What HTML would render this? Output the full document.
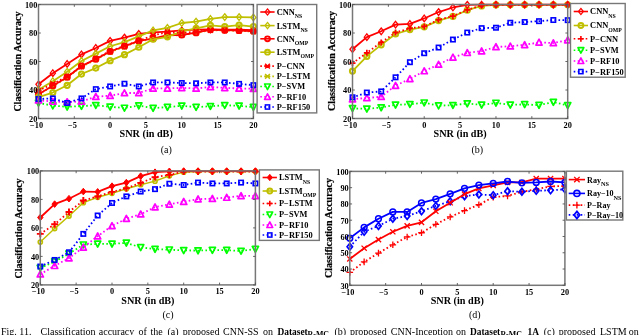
<!DOCTYPE html>
<html><head><meta charset="utf-8"><style>
html,body{margin:0;padding:0;background:#fff;width:640px;height:335px;overflow:hidden}
svg{display:block;will-change:transform}
</style></head><body>
<svg width="640" height="335" viewBox="0 0 640 335">
<rect width="640" height="335" fill="#fff"/>
<g clip-path="none">
<polyline points="38.5,94.56 52.83,86.15 67.15,77.75 81.48,66.63 95.81,59.65 110.13,52.1 124.46,46.82 138.79,41.41 153.11,38.98 167.44,35.56 181.77,35.14 196.09,33 210.42,30.15 224.75,30.44 239.07,30.72 253.4,31.58" fill="none" stroke="#bfbf00" stroke-width="1.8" stroke-linejoin="round" stroke-dasharray="1.6 2.4"/>
<path d="M36 92.06L41 97.06M36 97.06L41 92.06M35.5 94.56H41.5" stroke="#bfbf00" stroke-width="1.6"/>
<path d="M50.33 83.65L55.33 88.65M50.33 88.65L55.33 83.65M49.83 86.15H55.83" stroke="#bfbf00" stroke-width="1.6"/>
<path d="M64.65 75.25L69.65 80.25M64.65 80.25L69.65 75.25M64.15 77.75H70.15" stroke="#bfbf00" stroke-width="1.6"/>
<path d="M78.98 64.13L83.98 69.13M78.98 69.13L83.98 64.13M78.48 66.63H84.48" stroke="#bfbf00" stroke-width="1.6"/>
<path d="M93.31 57.15L98.31 62.15M93.31 62.15L98.31 57.15M92.81 59.65H98.81" stroke="#bfbf00" stroke-width="1.6"/>
<path d="M107.63 49.6L112.63 54.6M107.63 54.6L112.63 49.6M107.13 52.1H113.13" stroke="#bfbf00" stroke-width="1.6"/>
<path d="M121.96 44.32L126.96 49.32M121.96 49.32L126.96 44.32M121.46 46.82H127.46" stroke="#bfbf00" stroke-width="1.6"/>
<path d="M136.29 38.91L141.29 43.91M136.29 43.91L141.29 38.91M135.79 41.41H141.79" stroke="#bfbf00" stroke-width="1.6"/>
<path d="M150.61 36.48L155.61 41.48M150.61 41.48L155.61 36.48M150.11 38.98H156.11" stroke="#bfbf00" stroke-width="1.6"/>
<path d="M164.94 33.06L169.94 38.06M164.94 38.06L169.94 33.06M164.44 35.56H170.44" stroke="#bfbf00" stroke-width="1.6"/>
<path d="M179.27 32.64L184.27 37.64M179.27 37.64L184.27 32.64M178.77 35.14H184.77" stroke="#bfbf00" stroke-width="1.6"/>
<path d="M193.59 30.5L198.59 35.5M193.59 35.5L198.59 30.5M193.09 33H199.09" stroke="#bfbf00" stroke-width="1.6"/>
<path d="M207.92 27.65L212.92 32.65M207.92 32.65L212.92 27.65M207.42 30.15H213.42" stroke="#bfbf00" stroke-width="1.6"/>
<path d="M222.25 27.94L227.25 32.94M222.25 32.94L227.25 27.94M221.75 30.44H227.75" stroke="#bfbf00" stroke-width="1.6"/>
<path d="M236.57 28.22L241.57 33.22M236.57 33.22L241.57 28.22M236.07 30.72H242.07" stroke="#bfbf00" stroke-width="1.6"/>
<path d="M250.9 29.08L255.9 34.08M250.9 34.08L255.9 29.08M250.4 31.58H256.4" stroke="#bfbf00" stroke-width="1.6"/>
<polyline points="38.5,84.3 52.83,73.19 67.15,63.92 81.48,54.38 95.81,47.96 110.13,40.84 124.46,37.56 138.79,33.85 153.11,32.43 167.44,31.72 181.77,30.44 196.09,29.58 210.42,29.3 224.75,29.58 239.07,29.58 253.4,30.15" fill="none" stroke="#ff0000" stroke-width="1.8" stroke-linejoin="round"/>
<path d="M38.5 81L41.1 84.3L38.5 87.6L35.9 84.3Z" fill="none" stroke="#ff0000" stroke-width="1.3"/>
<path d="M52.83 69.89L55.43 73.19L52.83 76.48L50.23 73.19Z" fill="none" stroke="#ff0000" stroke-width="1.3"/>
<path d="M67.15 60.62L69.75 63.92L67.15 67.22L64.55 63.92Z" fill="none" stroke="#ff0000" stroke-width="1.3"/>
<path d="M81.48 51.08L84.08 54.38L81.48 57.67L78.88 54.38Z" fill="none" stroke="#ff0000" stroke-width="1.3"/>
<path d="M95.81 44.66L98.41 47.96L95.81 51.26L93.21 47.96Z" fill="none" stroke="#ff0000" stroke-width="1.3"/>
<path d="M110.13 37.54L112.73 40.84L110.13 44.14L107.53 40.84Z" fill="none" stroke="#ff0000" stroke-width="1.3"/>
<path d="M124.46 34.26L127.06 37.56L124.46 40.86L121.86 37.56Z" fill="none" stroke="#ff0000" stroke-width="1.3"/>
<path d="M138.79 30.55L141.39 33.85L138.79 37.15L136.19 33.85Z" fill="none" stroke="#ff0000" stroke-width="1.3"/>
<path d="M153.11 29.13L155.71 32.43L153.11 35.73L150.51 32.43Z" fill="none" stroke="#ff0000" stroke-width="1.3"/>
<path d="M167.44 28.42L170.04 31.72L167.44 35.02L164.84 31.72Z" fill="none" stroke="#ff0000" stroke-width="1.3"/>
<path d="M181.77 27.14L184.37 30.44L181.77 33.73L179.17 30.44Z" fill="none" stroke="#ff0000" stroke-width="1.3"/>
<path d="M196.09 26.28L198.69 29.58L196.09 32.88L193.49 29.58Z" fill="none" stroke="#ff0000" stroke-width="1.3"/>
<path d="M210.42 26L213.02 29.3L210.42 32.59L207.82 29.3Z" fill="none" stroke="#ff0000" stroke-width="1.3"/>
<path d="M224.75 26.28L227.35 29.58L224.75 32.88L222.15 29.58Z" fill="none" stroke="#ff0000" stroke-width="1.3"/>
<path d="M239.07 26.28L241.67 29.58L239.07 32.88L236.47 29.58Z" fill="none" stroke="#ff0000" stroke-width="1.3"/>
<path d="M253.4 26.85L256 30.15L253.4 33.45L250.8 30.15Z" fill="none" stroke="#ff0000" stroke-width="1.3"/>
<polyline points="38.5,89.71 52.83,81.16 67.15,71.76 81.48,60.93 95.81,53.66 110.13,46.25 124.46,42.12 138.79,36.42 153.11,30.44 167.44,27.87 181.77,23.02 196.09,21.6 210.42,18.89 224.75,17.04 239.07,17.04 253.4,17.47" fill="none" stroke="#bfbf00" stroke-width="1.8" stroke-linejoin="round"/>
<path d="M38.5 86.41L41.1 89.71L38.5 93.01L35.9 89.71Z" fill="none" stroke="#bfbf00" stroke-width="1.3"/>
<path d="M52.83 77.86L55.43 81.16L52.83 84.46L50.23 81.16Z" fill="none" stroke="#bfbf00" stroke-width="1.3"/>
<path d="M67.15 68.46L69.75 71.76L67.15 75.06L64.55 71.76Z" fill="none" stroke="#bfbf00" stroke-width="1.3"/>
<path d="M81.48 57.63L84.08 60.93L81.48 64.23L78.88 60.93Z" fill="none" stroke="#bfbf00" stroke-width="1.3"/>
<path d="M95.81 50.36L98.41 53.66L95.81 56.96L93.21 53.66Z" fill="none" stroke="#bfbf00" stroke-width="1.3"/>
<path d="M110.13 42.95L112.73 46.25L110.13 49.55L107.53 46.25Z" fill="none" stroke="#bfbf00" stroke-width="1.3"/>
<path d="M124.46 38.82L127.06 42.12L124.46 45.42L121.86 42.12Z" fill="none" stroke="#bfbf00" stroke-width="1.3"/>
<path d="M138.79 33.12L141.39 36.42L138.79 39.72L136.19 36.42Z" fill="none" stroke="#bfbf00" stroke-width="1.3"/>
<path d="M153.11 27.14L155.71 30.44L153.11 33.73L150.51 30.44Z" fill="none" stroke="#bfbf00" stroke-width="1.3"/>
<path d="M167.44 24.57L170.04 27.87L167.44 31.17L164.84 27.87Z" fill="none" stroke="#bfbf00" stroke-width="1.3"/>
<path d="M181.77 19.72L184.37 23.02L181.77 26.32L179.17 23.02Z" fill="none" stroke="#bfbf00" stroke-width="1.3"/>
<path d="M196.09 18.3L198.69 21.6L196.09 24.9L193.49 21.6Z" fill="none" stroke="#bfbf00" stroke-width="1.3"/>
<path d="M210.42 15.59L213.02 18.89L210.42 22.19L207.82 18.89Z" fill="none" stroke="#bfbf00" stroke-width="1.3"/>
<path d="M224.75 13.74L227.35 17.04L224.75 20.34L222.15 17.04Z" fill="none" stroke="#bfbf00" stroke-width="1.3"/>
<path d="M239.07 13.74L241.67 17.04L239.07 20.34L236.47 17.04Z" fill="none" stroke="#bfbf00" stroke-width="1.3"/>
<path d="M253.4 14.17L256 17.47L253.4 20.77L250.8 17.47Z" fill="none" stroke="#bfbf00" stroke-width="1.3"/>
<polyline points="38.5,94.28 52.83,85.72 67.15,77.18 81.48,66.06 95.81,59.08 110.13,51.52 124.46,46.25 138.79,40.84 153.11,38.7 167.44,35.14 181.77,35 196.09,32.71 210.42,29.58 224.75,30.15 239.07,30.44 253.4,31.29" fill="none" stroke="#ff0000" stroke-width="1.8" stroke-linejoin="round"/>
<circle cx="38.5" cy="94.28" r="2.6" fill="none" stroke="#ff0000" stroke-width="2"/>
<circle cx="52.83" cy="85.72" r="2.6" fill="none" stroke="#ff0000" stroke-width="2"/>
<circle cx="67.15" cy="77.18" r="2.6" fill="none" stroke="#ff0000" stroke-width="2"/>
<circle cx="81.48" cy="66.06" r="2.6" fill="none" stroke="#ff0000" stroke-width="2"/>
<circle cx="95.81" cy="59.08" r="2.6" fill="none" stroke="#ff0000" stroke-width="2"/>
<circle cx="110.13" cy="51.52" r="2.6" fill="none" stroke="#ff0000" stroke-width="2"/>
<circle cx="124.46" cy="46.25" r="2.6" fill="none" stroke="#ff0000" stroke-width="2"/>
<circle cx="138.79" cy="40.84" r="2.6" fill="none" stroke="#ff0000" stroke-width="2"/>
<circle cx="153.11" cy="38.7" r="2.6" fill="none" stroke="#ff0000" stroke-width="2"/>
<circle cx="167.44" cy="35.14" r="2.6" fill="none" stroke="#ff0000" stroke-width="2"/>
<circle cx="181.77" cy="35" r="2.6" fill="none" stroke="#ff0000" stroke-width="2"/>
<circle cx="196.09" cy="32.71" r="2.6" fill="none" stroke="#ff0000" stroke-width="2"/>
<circle cx="210.42" cy="29.58" r="2.6" fill="none" stroke="#ff0000" stroke-width="2"/>
<circle cx="224.75" cy="30.15" r="2.6" fill="none" stroke="#ff0000" stroke-width="2"/>
<circle cx="239.07" cy="30.44" r="2.6" fill="none" stroke="#ff0000" stroke-width="2"/>
<circle cx="253.4" cy="31.29" r="2.6" fill="none" stroke="#ff0000" stroke-width="2"/>
<polyline points="38.5,97.12 52.83,92.56 67.15,85.3 81.48,74.04 95.81,68.06 110.13,60.64 124.46,54.66 138.79,47.25 153.11,39.27 167.44,36.85 181.77,31.29 196.09,28.3 210.42,25.45 224.75,26.59 239.07,25.16 253.4,26.59" fill="none" stroke="#bfbf00" stroke-width="1.8" stroke-linejoin="round"/>
<circle cx="38.5" cy="97.12" r="2.6" fill="none" stroke="#bfbf00" stroke-width="2"/>
<circle cx="52.83" cy="92.56" r="2.6" fill="none" stroke="#bfbf00" stroke-width="2"/>
<circle cx="67.15" cy="85.3" r="2.6" fill="none" stroke="#bfbf00" stroke-width="2"/>
<circle cx="81.48" cy="74.04" r="2.6" fill="none" stroke="#bfbf00" stroke-width="2"/>
<circle cx="95.81" cy="68.06" r="2.6" fill="none" stroke="#bfbf00" stroke-width="2"/>
<circle cx="110.13" cy="60.64" r="2.6" fill="none" stroke="#bfbf00" stroke-width="2"/>
<circle cx="124.46" cy="54.66" r="2.6" fill="none" stroke="#bfbf00" stroke-width="2"/>
<circle cx="138.79" cy="47.25" r="2.6" fill="none" stroke="#bfbf00" stroke-width="2"/>
<circle cx="153.11" cy="39.27" r="2.6" fill="none" stroke="#bfbf00" stroke-width="2"/>
<circle cx="167.44" cy="36.85" r="2.6" fill="none" stroke="#bfbf00" stroke-width="2"/>
<circle cx="181.77" cy="31.29" r="2.6" fill="none" stroke="#bfbf00" stroke-width="2"/>
<circle cx="196.09" cy="28.3" r="2.6" fill="none" stroke="#bfbf00" stroke-width="2"/>
<circle cx="210.42" cy="25.45" r="2.6" fill="none" stroke="#bfbf00" stroke-width="2"/>
<circle cx="224.75" cy="26.59" r="2.6" fill="none" stroke="#bfbf00" stroke-width="2"/>
<circle cx="239.07" cy="25.16" r="2.6" fill="none" stroke="#bfbf00" stroke-width="2"/>
<circle cx="253.4" cy="26.59" r="2.6" fill="none" stroke="#bfbf00" stroke-width="2"/>
<polyline points="38.5,90.71 52.83,83.87 67.15,76.46 81.48,66.49 95.81,58.65 110.13,51.1 124.46,45.83 138.79,40.84 153.11,35.28 167.44,32.15 181.77,33 196.09,31.58 210.42,30.15 224.75,30.15 239.07,30.86 253.4,30.86" fill="none" stroke="#ff0000" stroke-width="1.8" stroke-linejoin="round" stroke-dasharray="1.6 2.4"/>
<path d="M36 88.21L41 93.21M36 93.21L41 88.21M35.5 90.71H41.5" stroke="#ff0000" stroke-width="1.6"/>
<path d="M50.33 81.37L55.33 86.37M50.33 86.37L55.33 81.37M49.83 83.87H55.83" stroke="#ff0000" stroke-width="1.6"/>
<path d="M64.65 73.96L69.65 78.96M64.65 78.96L69.65 73.96M64.15 76.46H70.15" stroke="#ff0000" stroke-width="1.6"/>
<path d="M78.98 63.99L83.98 68.99M78.98 68.99L83.98 63.99M78.48 66.49H84.48" stroke="#ff0000" stroke-width="1.6"/>
<path d="M93.31 56.15L98.31 61.15M93.31 61.15L98.31 56.15M92.81 58.65H98.81" stroke="#ff0000" stroke-width="1.6"/>
<path d="M107.63 48.6L112.63 53.6M107.63 53.6L112.63 48.6M107.13 51.1H113.13" stroke="#ff0000" stroke-width="1.6"/>
<path d="M121.96 43.33L126.96 48.33M121.96 48.33L126.96 43.33M121.46 45.83H127.46" stroke="#ff0000" stroke-width="1.6"/>
<path d="M136.29 38.34L141.29 43.34M136.29 43.34L141.29 38.34M135.79 40.84H141.79" stroke="#ff0000" stroke-width="1.6"/>
<path d="M150.61 32.78L155.61 37.78M150.61 37.78L155.61 32.78M150.11 35.28H156.11" stroke="#ff0000" stroke-width="1.6"/>
<path d="M164.94 29.65L169.94 34.65M164.94 34.65L169.94 29.65M164.44 32.15H170.44" stroke="#ff0000" stroke-width="1.6"/>
<path d="M179.27 30.5L184.27 35.5M179.27 35.5L184.27 30.5M178.77 33H184.77" stroke="#ff0000" stroke-width="1.6"/>
<path d="M193.59 29.08L198.59 34.08M193.59 34.08L198.59 29.08M193.09 31.58H199.09" stroke="#ff0000" stroke-width="1.6"/>
<path d="M207.92 27.65L212.92 32.65M207.92 32.65L212.92 27.65M207.42 30.15H213.42" stroke="#ff0000" stroke-width="1.6"/>
<path d="M222.25 27.65L227.25 32.65M222.25 32.65L227.25 27.65M221.75 30.15H227.75" stroke="#ff0000" stroke-width="1.6"/>
<path d="M236.57 28.36L241.57 33.36M236.57 33.36L241.57 28.36M236.07 30.86H242.07" stroke="#ff0000" stroke-width="1.6"/>
<path d="M250.9 28.36L255.9 33.36M250.9 33.36L255.9 28.36M250.4 30.86H256.4" stroke="#ff0000" stroke-width="1.6"/>
<polyline points="38.5,102.97 52.83,105.67 67.15,106.81 81.48,106.1 95.81,105.25 110.13,106.81 124.46,107.95 138.79,105.67 153.11,108.1 167.44,107.1 181.77,105.82 196.09,107.1 210.42,106.25 224.75,105.25 239.07,105.82 253.4,107.1" fill="none" stroke="#00ff00" stroke-width="1.8" stroke-linejoin="round" stroke-dasharray="1.6 2.4"/>
<path d="M35.4 100.27L41.6 100.27L38.5 106.17Z" fill="none" stroke="#00ff00" stroke-width="1.7" stroke-linejoin="round"/>
<path d="M49.73 102.97L55.93 102.97L52.83 108.88Z" fill="none" stroke="#00ff00" stroke-width="1.7" stroke-linejoin="round"/>
<path d="M64.05 104.11L70.25 104.11L67.15 110.02Z" fill="none" stroke="#00ff00" stroke-width="1.7" stroke-linejoin="round"/>
<path d="M78.38 103.4L84.58 103.4L81.48 109.3Z" fill="none" stroke="#00ff00" stroke-width="1.7" stroke-linejoin="round"/>
<path d="M92.71 102.55L98.91 102.55L95.81 108.45Z" fill="none" stroke="#00ff00" stroke-width="1.7" stroke-linejoin="round"/>
<path d="M107.03 104.11L113.23 104.11L110.13 110.02Z" fill="none" stroke="#00ff00" stroke-width="1.7" stroke-linejoin="round"/>
<path d="M121.36 105.25L127.56 105.25L124.46 111.16Z" fill="none" stroke="#00ff00" stroke-width="1.7" stroke-linejoin="round"/>
<path d="M135.69 102.97L141.89 102.97L138.79 108.88Z" fill="none" stroke="#00ff00" stroke-width="1.7" stroke-linejoin="round"/>
<path d="M150.01 105.4L156.21 105.4L153.11 111.3Z" fill="none" stroke="#00ff00" stroke-width="1.7" stroke-linejoin="round"/>
<path d="M164.34 104.4L170.54 104.4L167.44 110.3Z" fill="none" stroke="#00ff00" stroke-width="1.7" stroke-linejoin="round"/>
<path d="M178.67 103.12L184.87 103.12L181.77 109.02Z" fill="none" stroke="#00ff00" stroke-width="1.7" stroke-linejoin="round"/>
<path d="M192.99 104.4L199.19 104.4L196.09 110.3Z" fill="none" stroke="#00ff00" stroke-width="1.7" stroke-linejoin="round"/>
<path d="M207.32 103.55L213.52 103.55L210.42 109.45Z" fill="none" stroke="#00ff00" stroke-width="1.7" stroke-linejoin="round"/>
<path d="M221.65 102.55L227.85 102.55L224.75 108.45Z" fill="none" stroke="#00ff00" stroke-width="1.7" stroke-linejoin="round"/>
<path d="M235.97 103.12L242.17 103.12L239.07 109.02Z" fill="none" stroke="#00ff00" stroke-width="1.7" stroke-linejoin="round"/>
<path d="M250.3 104.4L256.5 104.4L253.4 110.3Z" fill="none" stroke="#00ff00" stroke-width="1.7" stroke-linejoin="round"/>
<polyline points="38.5,100.26 52.83,101.54 67.15,101.97 81.48,101.54 95.81,96.7 110.13,95.7 124.46,92.99 138.79,92.99 153.11,88.43 167.44,88.43 181.77,87.86 196.09,88.43 210.42,87.01 224.75,87.86 239.07,88.43 253.4,88.72" fill="none" stroke="#ff00ff" stroke-width="1.8" stroke-linejoin="round" stroke-dasharray="1.6 2.4"/>
<path d="M35.4 102.96L41.6 102.96L38.5 97.06Z" fill="none" stroke="#ff00ff" stroke-width="1.7" stroke-linejoin="round"/>
<path d="M49.73 104.24L55.93 104.24L52.83 98.34Z" fill="none" stroke="#ff00ff" stroke-width="1.7" stroke-linejoin="round"/>
<path d="M64.05 104.67L70.25 104.67L67.15 98.77Z" fill="none" stroke="#ff00ff" stroke-width="1.7" stroke-linejoin="round"/>
<path d="M78.38 104.24L84.58 104.24L81.48 98.34Z" fill="none" stroke="#ff00ff" stroke-width="1.7" stroke-linejoin="round"/>
<path d="M92.71 99.4L98.91 99.4L95.81 93.5Z" fill="none" stroke="#ff00ff" stroke-width="1.7" stroke-linejoin="round"/>
<path d="M107.03 98.4L113.23 98.4L110.13 92.5Z" fill="none" stroke="#ff00ff" stroke-width="1.7" stroke-linejoin="round"/>
<path d="M121.36 95.69L127.56 95.69L124.46 89.79Z" fill="none" stroke="#ff00ff" stroke-width="1.7" stroke-linejoin="round"/>
<path d="M135.69 95.69L141.89 95.69L138.79 89.79Z" fill="none" stroke="#ff00ff" stroke-width="1.7" stroke-linejoin="round"/>
<path d="M150.01 91.13L156.21 91.13L153.11 85.23Z" fill="none" stroke="#ff00ff" stroke-width="1.7" stroke-linejoin="round"/>
<path d="M164.34 91.13L170.54 91.13L167.44 85.23Z" fill="none" stroke="#ff00ff" stroke-width="1.7" stroke-linejoin="round"/>
<path d="M178.67 90.56L184.87 90.56L181.77 84.66Z" fill="none" stroke="#ff00ff" stroke-width="1.7" stroke-linejoin="round"/>
<path d="M192.99 91.13L199.19 91.13L196.09 85.23Z" fill="none" stroke="#ff00ff" stroke-width="1.7" stroke-linejoin="round"/>
<path d="M207.32 89.71L213.52 89.71L210.42 83.81Z" fill="none" stroke="#ff00ff" stroke-width="1.7" stroke-linejoin="round"/>
<path d="M221.65 90.56L227.85 90.56L224.75 84.66Z" fill="none" stroke="#ff00ff" stroke-width="1.7" stroke-linejoin="round"/>
<path d="M235.97 91.13L242.17 91.13L239.07 85.23Z" fill="none" stroke="#ff00ff" stroke-width="1.7" stroke-linejoin="round"/>
<path d="M250.3 91.42L256.5 91.42L253.4 85.52Z" fill="none" stroke="#ff00ff" stroke-width="1.7" stroke-linejoin="round"/>
<polyline points="38.5,98.98 52.83,98.41 67.15,102.97 81.48,98.41 95.81,89.14 110.13,86.44 124.46,83.73 138.79,86.44 153.11,82.45 167.44,82.45 181.77,83.02 196.09,83.3 210.42,82.45 224.75,82.45 239.07,83.87 253.4,85.16" fill="none" stroke="#0000ff" stroke-width="1.8" stroke-linejoin="round" stroke-dasharray="1.6 2.4"/>
<rect x="36.3" y="96.78" width="4.4" height="4.4" fill="none" stroke="#0000ff" stroke-width="1.6"/>
<rect x="50.63" y="96.21" width="4.4" height="4.4" fill="none" stroke="#0000ff" stroke-width="1.6"/>
<rect x="64.95" y="100.77" width="4.4" height="4.4" fill="none" stroke="#0000ff" stroke-width="1.6"/>
<rect x="79.28" y="96.21" width="4.4" height="4.4" fill="none" stroke="#0000ff" stroke-width="1.6"/>
<rect x="93.61" y="86.94" width="4.4" height="4.4" fill="none" stroke="#0000ff" stroke-width="1.6"/>
<rect x="107.93" y="84.24" width="4.4" height="4.4" fill="none" stroke="#0000ff" stroke-width="1.6"/>
<rect x="122.26" y="81.53" width="4.4" height="4.4" fill="none" stroke="#0000ff" stroke-width="1.6"/>
<rect x="136.59" y="84.24" width="4.4" height="4.4" fill="none" stroke="#0000ff" stroke-width="1.6"/>
<rect x="150.91" y="80.25" width="4.4" height="4.4" fill="none" stroke="#0000ff" stroke-width="1.6"/>
<rect x="165.24" y="80.25" width="4.4" height="4.4" fill="none" stroke="#0000ff" stroke-width="1.6"/>
<rect x="179.57" y="80.82" width="4.4" height="4.4" fill="none" stroke="#0000ff" stroke-width="1.6"/>
<rect x="193.89" y="81.1" width="4.4" height="4.4" fill="none" stroke="#0000ff" stroke-width="1.6"/>
<rect x="208.22" y="80.25" width="4.4" height="4.4" fill="none" stroke="#0000ff" stroke-width="1.6"/>
<rect x="222.55" y="80.25" width="4.4" height="4.4" fill="none" stroke="#0000ff" stroke-width="1.6"/>
<rect x="236.87" y="81.67" width="4.4" height="4.4" fill="none" stroke="#0000ff" stroke-width="1.6"/>
<rect x="251.2" y="82.95" width="4.4" height="4.4" fill="none" stroke="#0000ff" stroke-width="1.6"/>
</g>
<rect x="38.5" y="4.5" width="214.9" height="114" fill="none" stroke="#777" stroke-width="1.5"/>
<path d="M38.5 118.5V116.2M38.5 4.5V6.8" stroke="#555" stroke-width="0.9"/>
<text x="36.6" y="128" font-family="Liberation Serif" font-weight="bold" font-size="8.3" text-anchor="middle">−10</text>
<path d="M74.32 118.5V116.2M74.32 4.5V6.8" stroke="#555" stroke-width="0.9"/>
<text x="72.42" y="128" font-family="Liberation Serif" font-weight="bold" font-size="8.3" text-anchor="middle">−5</text>
<path d="M110.13 118.5V116.2M110.13 4.5V6.8" stroke="#555" stroke-width="0.9"/>
<text x="110.13" y="128" font-family="Liberation Serif" font-weight="bold" font-size="8.3" text-anchor="middle">0</text>
<path d="M145.95 118.5V116.2M145.95 4.5V6.8" stroke="#555" stroke-width="0.9"/>
<text x="145.95" y="128" font-family="Liberation Serif" font-weight="bold" font-size="8.3" text-anchor="middle">5</text>
<path d="M181.77 118.5V116.2M181.77 4.5V6.8" stroke="#555" stroke-width="0.9"/>
<text x="181.77" y="128" font-family="Liberation Serif" font-weight="bold" font-size="8.3" text-anchor="middle">10</text>
<path d="M217.58 118.5V116.2M217.58 4.5V6.8" stroke="#555" stroke-width="0.9"/>
<text x="217.58" y="128" font-family="Liberation Serif" font-weight="bold" font-size="8.3" text-anchor="middle">15</text>
<path d="M253.4 118.5V116.2M253.4 4.5V6.8" stroke="#555" stroke-width="0.9"/>
<text x="253.4" y="128" font-family="Liberation Serif" font-weight="bold" font-size="8.3" text-anchor="middle">20</text>
<path d="M38.5 118.5H40.8M253.4 118.5H251.1" stroke="#555" stroke-width="0.9"/>
<text x="37.4" y="121.8" font-family="Liberation Serif" font-weight="bold" font-size="8.3" text-anchor="end">20</text>
<path d="M38.5 90H40.8M253.4 90H251.1" stroke="#555" stroke-width="0.9"/>
<text x="37.4" y="93.3" font-family="Liberation Serif" font-weight="bold" font-size="8.3" text-anchor="end">40</text>
<path d="M38.5 61.5H40.8M253.4 61.5H251.1" stroke="#555" stroke-width="0.9"/>
<text x="37.4" y="64.8" font-family="Liberation Serif" font-weight="bold" font-size="8.3" text-anchor="end">60</text>
<path d="M38.5 33H40.8M253.4 33H251.1" stroke="#555" stroke-width="0.9"/>
<text x="37.4" y="36.3" font-family="Liberation Serif" font-weight="bold" font-size="8.3" text-anchor="end">80</text>
<path d="M38.5 4.5H40.8M253.4 4.5H251.1" stroke="#555" stroke-width="0.9"/>
<text x="37.4" y="7.8" font-family="Liberation Serif" font-weight="bold" font-size="8.3" text-anchor="end">100</text>
<text transform="translate(20.6 61.6) rotate(-90) scale(0.97 1)" font-family="Liberation Serif" font-weight="bold" font-size="10.3" text-anchor="middle" stroke="#000" stroke-width="0.2">Classification Accuracy</text>
<text x="146.2" y="137.2" font-family="Liberation Serif" font-weight="bold" font-size="10.2" text-anchor="middle">SNR (in dB)</text>
<text x="166.3" y="152.6" font-family="Liberation Serif" font-size="10" text-anchor="middle">(a)</text>
<rect x="257.1" y="4.5" width="59.6" height="108.4" fill="#fff" stroke="#777" stroke-width="1.4"/>
<path d="M260.3 12H274.6" stroke="#ff0000" stroke-width="1.6"/>
<path d="M267.5 8.87L269.97 12L267.5 15.13L265.03 12Z" fill="none" stroke="#ff0000" stroke-width="1.23"/>
<text x="276.7" y="14.9" font-family="Liberation Serif" font-weight="bold" font-size="8.4">CNN<tspan font-size="5.8" dy="3.2">NS</tspan></text>
<path d="M260.3 25.6H274.6" stroke="#bfbf00" stroke-width="1.6"/>
<path d="M267.5 22.47L269.97 25.6L267.5 28.73L265.03 25.6Z" fill="none" stroke="#bfbf00" stroke-width="1.23"/>
<text x="276.7" y="28.5" font-family="Liberation Serif" font-weight="bold" font-size="8.4">LSTM<tspan font-size="5.8" dy="3.2">NS</tspan></text>
<path d="M260.3 38.8H274.6" stroke="#ff0000" stroke-width="1.6"/>
<circle cx="267.5" cy="38.8" r="2.47" fill="none" stroke="#ff0000" stroke-width="1.9"/>
<text x="276.7" y="41.7" font-family="Liberation Serif" font-weight="bold" font-size="8.4">CNN<tspan font-size="5.8" dy="3.2">OMP</tspan></text>
<path d="M260.3 52.2H274.6" stroke="#bfbf00" stroke-width="1.6"/>
<circle cx="267.5" cy="52.2" r="2.47" fill="none" stroke="#bfbf00" stroke-width="1.9"/>
<text x="276.7" y="55.1" font-family="Liberation Serif" font-weight="bold" font-size="8.4">LSTM<tspan font-size="5.8" dy="3.2">OMP</tspan></text>
<path d="M260.3 66.1H274.6" stroke="#ff0000" stroke-width="1.6" stroke-dasharray="1.6 2.4"/>
<path d="M265.12 63.72L269.88 68.47M265.12 68.47L269.88 63.72M264.65 66.1H270.35" stroke="#ff0000" stroke-width="1.52"/>
<text x="276.7" y="69" font-family="Liberation Serif" font-weight="bold" font-size="8.4">P−CNN</text>
<path d="M260.3 76.4H274.6" stroke="#bfbf00" stroke-width="1.6" stroke-dasharray="1.6 2.4"/>
<path d="M265.12 74.03L269.88 78.78M265.12 78.78L269.88 74.03M264.65 76.4H270.35" stroke="#bfbf00" stroke-width="1.52"/>
<text x="276.7" y="79.3" font-family="Liberation Serif" font-weight="bold" font-size="8.4">P−LSTM</text>
<path d="M260.3 86.5H274.6" stroke="#00ff00" stroke-width="1.6" stroke-dasharray="1.6 2.4"/>
<path d="M264.56 83.94L270.44 83.94L267.5 89.54Z" fill="none" stroke="#00ff00" stroke-width="1.61" stroke-linejoin="round"/>
<text x="276.7" y="89.4" font-family="Liberation Serif" font-weight="bold" font-size="8.4">P−SVM</text>
<path d="M260.3 96.8H274.6" stroke="#ff00ff" stroke-width="1.6" stroke-dasharray="1.6 2.4"/>
<path d="M264.56 99.36L270.44 99.36L267.5 93.76Z" fill="none" stroke="#ff00ff" stroke-width="1.61" stroke-linejoin="round"/>
<text x="276.7" y="99.7" font-family="Liberation Serif" font-weight="bold" font-size="8.4">P−RF10</text>
<path d="M260.3 107H274.6" stroke="#0000ff" stroke-width="1.6" stroke-dasharray="1.6 2.4"/>
<rect x="265.41" y="104.91" width="4.18" height="4.18" fill="none" stroke="#0000ff" stroke-width="1.52"/>
<text x="276.7" y="109.9" font-family="Liberation Serif" font-weight="bold" font-size="8.4">P−RF150</text>
<g clip-path="none">
<polyline points="352.5,108.38 366.85,108.81 381.19,107.53 395.54,104.82 409.89,104.25 424.23,102.68 438.58,105.67 452.93,105.25 467.27,103.54 481.62,104.82 495.97,102.97 510.31,104.82 524.66,104.39 539.01,105.11 553.35,102.11 567.7,105.39" fill="none" stroke="#00ff00" stroke-width="1.8" stroke-linejoin="round" stroke-dasharray="1.6 2.4"/>
<path d="M349.4 105.68L355.6 105.68L352.5 111.58Z" fill="none" stroke="#00ff00" stroke-width="1.7" stroke-linejoin="round"/>
<path d="M363.75 106.11L369.95 106.11L366.85 112.01Z" fill="none" stroke="#00ff00" stroke-width="1.7" stroke-linejoin="round"/>
<path d="M378.09 104.83L384.29 104.83L381.19 110.73Z" fill="none" stroke="#00ff00" stroke-width="1.7" stroke-linejoin="round"/>
<path d="M392.44 102.12L398.64 102.12L395.54 108.02Z" fill="none" stroke="#00ff00" stroke-width="1.7" stroke-linejoin="round"/>
<path d="M406.79 101.55L412.99 101.55L409.89 107.45Z" fill="none" stroke="#00ff00" stroke-width="1.7" stroke-linejoin="round"/>
<path d="M421.13 99.98L427.33 99.98L424.23 105.88Z" fill="none" stroke="#00ff00" stroke-width="1.7" stroke-linejoin="round"/>
<path d="M435.48 102.97L441.68 102.97L438.58 108.88Z" fill="none" stroke="#00ff00" stroke-width="1.7" stroke-linejoin="round"/>
<path d="M449.83 102.55L456.03 102.55L452.93 108.45Z" fill="none" stroke="#00ff00" stroke-width="1.7" stroke-linejoin="round"/>
<path d="M464.17 100.84L470.37 100.84L467.27 106.74Z" fill="none" stroke="#00ff00" stroke-width="1.7" stroke-linejoin="round"/>
<path d="M478.52 102.12L484.72 102.12L481.62 108.02Z" fill="none" stroke="#00ff00" stroke-width="1.7" stroke-linejoin="round"/>
<path d="M492.87 100.27L499.07 100.27L495.97 106.17Z" fill="none" stroke="#00ff00" stroke-width="1.7" stroke-linejoin="round"/>
<path d="M507.21 102.12L513.41 102.12L510.31 108.02Z" fill="none" stroke="#00ff00" stroke-width="1.7" stroke-linejoin="round"/>
<path d="M521.56 101.69L527.76 101.69L524.66 107.59Z" fill="none" stroke="#00ff00" stroke-width="1.7" stroke-linejoin="round"/>
<path d="M535.91 102.41L542.11 102.41L539.01 108.31Z" fill="none" stroke="#00ff00" stroke-width="1.7" stroke-linejoin="round"/>
<path d="M550.25 99.41L556.45 99.41L553.35 105.31Z" fill="none" stroke="#00ff00" stroke-width="1.7" stroke-linejoin="round"/>
<path d="M564.6 102.69L570.8 102.69L567.7 108.59Z" fill="none" stroke="#00ff00" stroke-width="1.7" stroke-linejoin="round"/>
<polyline points="352.5,99.12 366.85,97.98 381.19,96.7 395.54,85.58 409.89,78.89 424.23,71.05 438.58,64.49 452.93,57.37 467.27,52.81 481.62,51.1 495.97,46.96 510.31,46.25 524.66,44.83 539.01,42.4 553.35,42.98 567.7,40.12" fill="none" stroke="#ff00ff" stroke-width="1.8" stroke-linejoin="round" stroke-dasharray="1.6 2.4"/>
<path d="M349.4 101.82L355.6 101.82L352.5 95.92Z" fill="none" stroke="#ff00ff" stroke-width="1.7" stroke-linejoin="round"/>
<path d="M363.75 100.68L369.95 100.68L366.85 94.78Z" fill="none" stroke="#ff00ff" stroke-width="1.7" stroke-linejoin="round"/>
<path d="M378.09 99.4L384.29 99.4L381.19 93.5Z" fill="none" stroke="#ff00ff" stroke-width="1.7" stroke-linejoin="round"/>
<path d="M392.44 88.28L398.64 88.28L395.54 82.38Z" fill="none" stroke="#ff00ff" stroke-width="1.7" stroke-linejoin="round"/>
<path d="M406.79 81.59L412.99 81.59L409.89 75.69Z" fill="none" stroke="#ff00ff" stroke-width="1.7" stroke-linejoin="round"/>
<path d="M421.13 73.75L427.33 73.75L424.23 67.85Z" fill="none" stroke="#ff00ff" stroke-width="1.7" stroke-linejoin="round"/>
<path d="M435.48 67.19L441.68 67.19L438.58 61.29Z" fill="none" stroke="#ff00ff" stroke-width="1.7" stroke-linejoin="round"/>
<path d="M449.83 60.07L456.03 60.07L452.93 54.17Z" fill="none" stroke="#ff00ff" stroke-width="1.7" stroke-linejoin="round"/>
<path d="M464.17 55.51L470.37 55.51L467.27 49.61Z" fill="none" stroke="#ff00ff" stroke-width="1.7" stroke-linejoin="round"/>
<path d="M478.52 53.8L484.72 53.8L481.62 47.9Z" fill="none" stroke="#ff00ff" stroke-width="1.7" stroke-linejoin="round"/>
<path d="M492.87 49.66L499.07 49.66L495.97 43.76Z" fill="none" stroke="#ff00ff" stroke-width="1.7" stroke-linejoin="round"/>
<path d="M507.21 48.95L513.41 48.95L510.31 43.05Z" fill="none" stroke="#ff00ff" stroke-width="1.7" stroke-linejoin="round"/>
<path d="M521.56 47.53L527.76 47.53L524.66 41.63Z" fill="none" stroke="#ff00ff" stroke-width="1.7" stroke-linejoin="round"/>
<path d="M535.91 45.1L542.11 45.1L539.01 39.2Z" fill="none" stroke="#ff00ff" stroke-width="1.7" stroke-linejoin="round"/>
<path d="M550.25 45.68L556.45 45.68L553.35 39.78Z" fill="none" stroke="#ff00ff" stroke-width="1.7" stroke-linejoin="round"/>
<path d="M564.6 42.83L570.8 42.83L567.7 36.92Z" fill="none" stroke="#ff00ff" stroke-width="1.7" stroke-linejoin="round"/>
<polyline points="352.5,97.27 366.85,92.56 381.19,91.42 395.54,77.32 409.89,62.21 424.23,53.23 438.58,47.54 452.93,39.55 467.27,32.57 481.62,28.15 495.97,27.73 510.31,22.74 524.66,22.03 539.01,21.17 553.35,20.03 567.7,20.17" fill="none" stroke="#0000ff" stroke-width="1.8" stroke-linejoin="round" stroke-dasharray="1.6 2.4"/>
<rect x="350.3" y="95.07" width="4.4" height="4.4" fill="none" stroke="#0000ff" stroke-width="1.6"/>
<rect x="364.65" y="90.36" width="4.4" height="4.4" fill="none" stroke="#0000ff" stroke-width="1.6"/>
<rect x="378.99" y="89.22" width="4.4" height="4.4" fill="none" stroke="#0000ff" stroke-width="1.6"/>
<rect x="393.34" y="75.12" width="4.4" height="4.4" fill="none" stroke="#0000ff" stroke-width="1.6"/>
<rect x="407.69" y="60.01" width="4.4" height="4.4" fill="none" stroke="#0000ff" stroke-width="1.6"/>
<rect x="422.03" y="51.03" width="4.4" height="4.4" fill="none" stroke="#0000ff" stroke-width="1.6"/>
<rect x="436.38" y="45.34" width="4.4" height="4.4" fill="none" stroke="#0000ff" stroke-width="1.6"/>
<rect x="450.73" y="37.35" width="4.4" height="4.4" fill="none" stroke="#0000ff" stroke-width="1.6"/>
<rect x="465.07" y="30.37" width="4.4" height="4.4" fill="none" stroke="#0000ff" stroke-width="1.6"/>
<rect x="479.42" y="25.95" width="4.4" height="4.4" fill="none" stroke="#0000ff" stroke-width="1.6"/>
<rect x="493.77" y="25.53" width="4.4" height="4.4" fill="none" stroke="#0000ff" stroke-width="1.6"/>
<rect x="508.11" y="20.54" width="4.4" height="4.4" fill="none" stroke="#0000ff" stroke-width="1.6"/>
<rect x="522.46" y="19.83" width="4.4" height="4.4" fill="none" stroke="#0000ff" stroke-width="1.6"/>
<rect x="536.81" y="18.97" width="4.4" height="4.4" fill="none" stroke="#0000ff" stroke-width="1.6"/>
<rect x="551.15" y="17.83" width="4.4" height="4.4" fill="none" stroke="#0000ff" stroke-width="1.6"/>
<rect x="565.5" y="17.97" width="4.4" height="4.4" fill="none" stroke="#0000ff" stroke-width="1.6"/>
<polyline points="352.5,71.05 366.85,56.37 381.19,44.83 395.54,34 409.89,29.58 424.23,26.87 438.58,20.6 452.93,16.47 467.27,10.2 481.62,5.92 495.97,4.93 510.31,4.79 524.66,4.79 539.01,4.79 553.35,4.79 567.7,4.79" fill="none" stroke="#bfbf00" stroke-width="1.8" stroke-linejoin="round"/>
<circle cx="352.5" cy="71.05" r="2.6" fill="none" stroke="#bfbf00" stroke-width="2"/>
<circle cx="366.85" cy="56.37" r="2.6" fill="none" stroke="#bfbf00" stroke-width="2"/>
<circle cx="381.19" cy="44.83" r="2.6" fill="none" stroke="#bfbf00" stroke-width="2"/>
<circle cx="395.54" cy="34" r="2.6" fill="none" stroke="#bfbf00" stroke-width="2"/>
<circle cx="409.89" cy="29.58" r="2.6" fill="none" stroke="#bfbf00" stroke-width="2"/>
<circle cx="424.23" cy="26.87" r="2.6" fill="none" stroke="#bfbf00" stroke-width="2"/>
<circle cx="438.58" cy="20.6" r="2.6" fill="none" stroke="#bfbf00" stroke-width="2"/>
<circle cx="452.93" cy="16.47" r="2.6" fill="none" stroke="#bfbf00" stroke-width="2"/>
<circle cx="467.27" cy="10.2" r="2.6" fill="none" stroke="#bfbf00" stroke-width="2"/>
<circle cx="481.62" cy="5.92" r="2.6" fill="none" stroke="#bfbf00" stroke-width="2"/>
<circle cx="495.97" cy="4.93" r="2.6" fill="none" stroke="#bfbf00" stroke-width="2"/>
<circle cx="510.31" cy="4.79" r="2.6" fill="none" stroke="#bfbf00" stroke-width="2"/>
<circle cx="524.66" cy="4.79" r="2.6" fill="none" stroke="#bfbf00" stroke-width="2"/>
<circle cx="539.01" cy="4.79" r="2.6" fill="none" stroke="#bfbf00" stroke-width="2"/>
<circle cx="553.35" cy="4.79" r="2.6" fill="none" stroke="#bfbf00" stroke-width="2"/>
<circle cx="567.7" cy="4.79" r="2.6" fill="none" stroke="#bfbf00" stroke-width="2"/>
<polyline points="352.5,63.21 366.85,52.81 381.19,42.4 395.54,32.57 409.89,28.3 424.23,26.45 438.58,19.75 452.93,16.19 467.27,9.91 481.62,5.35 495.97,4.79 510.31,4.79 524.66,4.79 539.01,4.79 553.35,4.79 567.7,4.79" fill="none" stroke="#ff0000" stroke-width="1.8" stroke-linejoin="round" stroke-dasharray="1.6 2.4"/>
<path d="M349.5 63.21L355.5 63.21M352.5 60.21L352.5 66.21" stroke="#ff0000" stroke-width="1.7"/>
<path d="M363.85 52.81L369.85 52.81M366.85 49.81L366.85 55.81" stroke="#ff0000" stroke-width="1.7"/>
<path d="M378.19 42.4L384.19 42.4M381.19 39.4L381.19 45.4" stroke="#ff0000" stroke-width="1.7"/>
<path d="M392.54 32.57L398.54 32.57M395.54 29.57L395.54 35.57" stroke="#ff0000" stroke-width="1.7"/>
<path d="M406.89 28.3L412.89 28.3M409.89 25.3L409.89 31.3" stroke="#ff0000" stroke-width="1.7"/>
<path d="M421.23 26.45L427.23 26.45M424.23 23.45L424.23 29.45" stroke="#ff0000" stroke-width="1.7"/>
<path d="M435.58 19.75L441.58 19.75M438.58 16.75L438.58 22.75" stroke="#ff0000" stroke-width="1.7"/>
<path d="M449.93 16.19L455.93 16.19M452.93 13.19L452.93 19.19" stroke="#ff0000" stroke-width="1.7"/>
<path d="M464.27 9.91L470.27 9.91M467.27 6.91L467.27 12.91" stroke="#ff0000" stroke-width="1.7"/>
<path d="M478.62 5.35L484.62 5.35M481.62 2.35L481.62 8.35" stroke="#ff0000" stroke-width="1.7"/>
<path d="M492.97 4.79L498.97 4.79M495.97 1.79L495.97 7.79" stroke="#ff0000" stroke-width="1.7"/>
<path d="M507.31 4.79L513.31 4.79M510.31 1.79L510.31 7.79" stroke="#ff0000" stroke-width="1.7"/>
<path d="M521.66 4.79L527.66 4.79M524.66 1.79L524.66 7.79" stroke="#ff0000" stroke-width="1.7"/>
<path d="M536.01 4.79L542.01 4.79M539.01 1.79L539.01 7.79" stroke="#ff0000" stroke-width="1.7"/>
<path d="M550.35 4.79L556.35 4.79M553.35 1.79L553.35 7.79" stroke="#ff0000" stroke-width="1.7"/>
<path d="M564.7 4.79L570.7 4.79M567.7 1.79L567.7 7.79" stroke="#ff0000" stroke-width="1.7"/>
<polyline points="352.5,49.25 366.85,37.13 381.19,31.29 395.54,24.59 409.89,23.88 424.23,18.46 438.58,12.05 452.93,7.49 467.27,4.79 481.62,4.64 495.97,4.64 510.31,4.64 524.66,4.64 539.01,4.64 553.35,4.64 567.7,4.64" fill="none" stroke="#ff0000" stroke-width="1.8" stroke-linejoin="round"/>
<path d="M352.5 45.95L355.1 49.25L352.5 52.55L349.9 49.25Z" fill="none" stroke="#ff0000" stroke-width="1.3"/>
<path d="M366.85 33.83L369.45 37.13L366.85 40.43L364.25 37.13Z" fill="none" stroke="#ff0000" stroke-width="1.3"/>
<path d="M381.19 27.99L383.79 31.29L381.19 34.59L378.59 31.29Z" fill="none" stroke="#ff0000" stroke-width="1.3"/>
<path d="M395.54 21.29L398.14 24.59L395.54 27.89L392.94 24.59Z" fill="none" stroke="#ff0000" stroke-width="1.3"/>
<path d="M409.89 20.58L412.49 23.88L409.89 27.18L407.29 23.88Z" fill="none" stroke="#ff0000" stroke-width="1.3"/>
<path d="M424.23 15.16L426.83 18.46L424.23 21.76L421.63 18.46Z" fill="none" stroke="#ff0000" stroke-width="1.3"/>
<path d="M438.58 8.75L441.18 12.05L438.58 15.35L435.98 12.05Z" fill="none" stroke="#ff0000" stroke-width="1.3"/>
<path d="M452.93 4.19L455.53 7.49L452.93 10.79L450.33 7.49Z" fill="none" stroke="#ff0000" stroke-width="1.3"/>
<path d="M467.27 1.49L469.87 4.79L467.27 8.09L464.67 4.79Z" fill="none" stroke="#ff0000" stroke-width="1.3"/>
<path d="M481.62 1.34L484.22 4.64L481.62 7.94L479.02 4.64Z" fill="none" stroke="#ff0000" stroke-width="1.3"/>
<path d="M495.97 1.34L498.57 4.64L495.97 7.94L493.37 4.64Z" fill="none" stroke="#ff0000" stroke-width="1.3"/>
<path d="M510.31 1.34L512.91 4.64L510.31 7.94L507.71 4.64Z" fill="none" stroke="#ff0000" stroke-width="1.3"/>
<path d="M524.66 1.34L527.26 4.64L524.66 7.94L522.06 4.64Z" fill="none" stroke="#ff0000" stroke-width="1.3"/>
<path d="M539.01 1.34L541.61 4.64L539.01 7.94L536.41 4.64Z" fill="none" stroke="#ff0000" stroke-width="1.3"/>
<path d="M553.35 1.34L555.95 4.64L553.35 7.94L550.75 4.64Z" fill="none" stroke="#ff0000" stroke-width="1.3"/>
<path d="M567.7 1.34L570.3 4.64L567.7 7.94L565.1 4.64Z" fill="none" stroke="#ff0000" stroke-width="1.3"/>
</g>
<rect x="352.5" y="4.5" width="215.2" height="114" fill="none" stroke="#777" stroke-width="1.5"/>
<path d="M352.5 118.5V116.2M352.5 4.5V6.8" stroke="#555" stroke-width="0.9"/>
<text x="350.6" y="128" font-family="Liberation Serif" font-weight="bold" font-size="8.3" text-anchor="middle">−10</text>
<path d="M388.37 118.5V116.2M388.37 4.5V6.8" stroke="#555" stroke-width="0.9"/>
<text x="386.47" y="128" font-family="Liberation Serif" font-weight="bold" font-size="8.3" text-anchor="middle">−5</text>
<path d="M424.23 118.5V116.2M424.23 4.5V6.8" stroke="#555" stroke-width="0.9"/>
<text x="424.23" y="128" font-family="Liberation Serif" font-weight="bold" font-size="8.3" text-anchor="middle">0</text>
<path d="M460.1 118.5V116.2M460.1 4.5V6.8" stroke="#555" stroke-width="0.9"/>
<text x="460.1" y="128" font-family="Liberation Serif" font-weight="bold" font-size="8.3" text-anchor="middle">5</text>
<path d="M495.97 118.5V116.2M495.97 4.5V6.8" stroke="#555" stroke-width="0.9"/>
<text x="495.97" y="128" font-family="Liberation Serif" font-weight="bold" font-size="8.3" text-anchor="middle">10</text>
<path d="M531.83 118.5V116.2M531.83 4.5V6.8" stroke="#555" stroke-width="0.9"/>
<text x="531.83" y="128" font-family="Liberation Serif" font-weight="bold" font-size="8.3" text-anchor="middle">15</text>
<path d="M567.7 118.5V116.2M567.7 4.5V6.8" stroke="#555" stroke-width="0.9"/>
<text x="567.7" y="128" font-family="Liberation Serif" font-weight="bold" font-size="8.3" text-anchor="middle">20</text>
<path d="M352.5 118.5H354.8M567.7 118.5H565.4" stroke="#555" stroke-width="0.9"/>
<text x="351.4" y="121.8" font-family="Liberation Serif" font-weight="bold" font-size="8.3" text-anchor="end">20</text>
<path d="M352.5 90H354.8M567.7 90H565.4" stroke="#555" stroke-width="0.9"/>
<text x="351.4" y="93.3" font-family="Liberation Serif" font-weight="bold" font-size="8.3" text-anchor="end">40</text>
<path d="M352.5 61.5H354.8M567.7 61.5H565.4" stroke="#555" stroke-width="0.9"/>
<text x="351.4" y="64.8" font-family="Liberation Serif" font-weight="bold" font-size="8.3" text-anchor="end">60</text>
<path d="M352.5 33H354.8M567.7 33H565.4" stroke="#555" stroke-width="0.9"/>
<text x="351.4" y="36.3" font-family="Liberation Serif" font-weight="bold" font-size="8.3" text-anchor="end">80</text>
<path d="M352.5 4.5H354.8M567.7 4.5H565.4" stroke="#555" stroke-width="0.9"/>
<text x="351.4" y="7.8" font-family="Liberation Serif" font-weight="bold" font-size="8.3" text-anchor="end">100</text>
<text transform="translate(335.2 60.9) rotate(-90) scale(0.97 1)" font-family="Liberation Serif" font-weight="bold" font-size="10.3" text-anchor="middle" stroke="#000" stroke-width="0.2">Classification Accuracy</text>
<text x="460.1" y="137.2" font-family="Liberation Serif" font-weight="bold" font-size="10.2" text-anchor="middle">SNR (in dB)</text>
<text x="477.3" y="152.6" font-family="Liberation Serif" font-size="10" text-anchor="middle">(b)</text>
<rect x="570.5" y="3.5" width="54.7" height="73.7" fill="#fff" stroke="#777" stroke-width="1.4"/>
<path d="M573.7 11.5H588" stroke="#ff0000" stroke-width="1.6"/>
<path d="M580.9 8.37L583.37 11.5L580.9 14.63L578.43 11.5Z" fill="none" stroke="#ff0000" stroke-width="1.23"/>
<text x="590.1" y="14.4" font-family="Liberation Serif" font-weight="bold" font-size="8.4">CNN<tspan font-size="5.8" dy="3.2">NS</tspan></text>
<path d="M573.7 25.5H588" stroke="#bfbf00" stroke-width="1.6"/>
<circle cx="580.9" cy="25.5" r="2.47" fill="none" stroke="#bfbf00" stroke-width="1.9"/>
<text x="590.1" y="28.4" font-family="Liberation Serif" font-weight="bold" font-size="8.4">CNN<tspan font-size="5.8" dy="3.2">OMP</tspan></text>
<path d="M573.7 38.8H588" stroke="#ff0000" stroke-width="1.6" stroke-dasharray="1.6 2.4"/>
<path d="M578.05 38.8L583.75 38.8M580.9 35.95L580.9 41.65" stroke="#ff0000" stroke-width="1.61"/>
<text x="590.1" y="41.7" font-family="Liberation Serif" font-weight="bold" font-size="8.4">P−CNN</text>
<path d="M573.7 50.2H588" stroke="#00ff00" stroke-width="1.6" stroke-dasharray="1.6 2.4"/>
<path d="M577.95 47.64L583.85 47.64L580.9 53.24Z" fill="none" stroke="#00ff00" stroke-width="1.61" stroke-linejoin="round"/>
<text x="590.1" y="53.1" font-family="Liberation Serif" font-weight="bold" font-size="8.4">P−SVM</text>
<path d="M573.7 61H588" stroke="#ff00ff" stroke-width="1.6" stroke-dasharray="1.6 2.4"/>
<path d="M577.95 63.56L583.85 63.56L580.9 57.96Z" fill="none" stroke="#ff00ff" stroke-width="1.61" stroke-linejoin="round"/>
<text x="590.1" y="63.9" font-family="Liberation Serif" font-weight="bold" font-size="8.4">P−RF10</text>
<path d="M573.7 71.6H588" stroke="#0000ff" stroke-width="1.6" stroke-dasharray="1.6 2.4"/>
<rect x="578.81" y="69.51" width="4.18" height="4.18" fill="none" stroke="#0000ff" stroke-width="1.52"/>
<text x="590.1" y="74.5" font-family="Liberation Serif" font-weight="bold" font-size="8.4">P−RF150</text>
<g clip-path="none">
<polyline points="40.3,267.94 54.64,261.67 68.98,253.69 83.32,244.71 97.66,243.86 112,243.86 126.34,242.86 140.68,247.42 155.02,249.13 169.36,249.7 183.7,250.41 198.04,250.56 212.38,250.13 226.72,250.13 241.06,250.98 255.4,249.13" fill="none" stroke="#00ff00" stroke-width="1.8" stroke-linejoin="round" stroke-dasharray="1.6 2.4"/>
<path d="M37.2 265.24L43.4 265.24L40.3 271.14Z" fill="none" stroke="#00ff00" stroke-width="1.7" stroke-linejoin="round"/>
<path d="M51.54 258.97L57.74 258.97L54.64 264.87Z" fill="none" stroke="#00ff00" stroke-width="1.7" stroke-linejoin="round"/>
<path d="M65.88 250.99L72.08 250.99L68.98 256.89Z" fill="none" stroke="#00ff00" stroke-width="1.7" stroke-linejoin="round"/>
<path d="M80.22 242.01L86.42 242.01L83.32 247.91Z" fill="none" stroke="#00ff00" stroke-width="1.7" stroke-linejoin="round"/>
<path d="M94.56 241.16L100.76 241.16L97.66 247.06Z" fill="none" stroke="#00ff00" stroke-width="1.7" stroke-linejoin="round"/>
<path d="M108.9 241.16L115.1 241.16L112 247.06Z" fill="none" stroke="#00ff00" stroke-width="1.7" stroke-linejoin="round"/>
<path d="M123.24 240.16L129.44 240.16L126.34 246.06Z" fill="none" stroke="#00ff00" stroke-width="1.7" stroke-linejoin="round"/>
<path d="M137.58 244.72L143.78 244.72L140.68 250.62Z" fill="none" stroke="#00ff00" stroke-width="1.7" stroke-linejoin="round"/>
<path d="M151.92 246.43L158.12 246.43L155.02 252.33Z" fill="none" stroke="#00ff00" stroke-width="1.7" stroke-linejoin="round"/>
<path d="M166.26 247L172.46 247L169.36 252.9Z" fill="none" stroke="#00ff00" stroke-width="1.7" stroke-linejoin="round"/>
<path d="M180.6 247.71L186.8 247.71L183.7 253.61Z" fill="none" stroke="#00ff00" stroke-width="1.7" stroke-linejoin="round"/>
<path d="M194.94 247.86L201.14 247.86L198.04 253.76Z" fill="none" stroke="#00ff00" stroke-width="1.7" stroke-linejoin="round"/>
<path d="M209.28 247.43L215.48 247.43L212.38 253.33Z" fill="none" stroke="#00ff00" stroke-width="1.7" stroke-linejoin="round"/>
<path d="M223.62 247.43L229.82 247.43L226.72 253.33Z" fill="none" stroke="#00ff00" stroke-width="1.7" stroke-linejoin="round"/>
<path d="M237.96 248.28L244.16 248.28L241.06 254.18Z" fill="none" stroke="#00ff00" stroke-width="1.7" stroke-linejoin="round"/>
<path d="M252.3 246.43L258.5 246.43L255.4 252.33Z" fill="none" stroke="#00ff00" stroke-width="1.7" stroke-linejoin="round"/>
<polyline points="40.3,274.21 54.64,265.81 68.98,258.11 83.32,247.42 97.66,236.16 112,225.91 126.34,218.64 140.68,214.22 155.02,207.1 169.36,204.39 183.7,201.68 198.04,199.12 212.38,198.69 226.72,197.55 241.06,195.84 255.4,195.84" fill="none" stroke="#ff00ff" stroke-width="1.8" stroke-linejoin="round" stroke-dasharray="1.6 2.4"/>
<path d="M37.2 276.91L43.4 276.91L40.3 271.01Z" fill="none" stroke="#ff00ff" stroke-width="1.7" stroke-linejoin="round"/>
<path d="M51.54 268.5L57.74 268.5L54.64 262.61Z" fill="none" stroke="#ff00ff" stroke-width="1.7" stroke-linejoin="round"/>
<path d="M65.88 260.81L72.08 260.81L68.98 254.91Z" fill="none" stroke="#ff00ff" stroke-width="1.7" stroke-linejoin="round"/>
<path d="M80.22 250.12L86.42 250.12L83.32 244.22Z" fill="none" stroke="#ff00ff" stroke-width="1.7" stroke-linejoin="round"/>
<path d="M94.56 238.86L100.76 238.86L97.66 232.97Z" fill="none" stroke="#ff00ff" stroke-width="1.7" stroke-linejoin="round"/>
<path d="M108.9 228.6L115.1 228.6L112 222.71Z" fill="none" stroke="#ff00ff" stroke-width="1.7" stroke-linejoin="round"/>
<path d="M123.24 221.34L129.44 221.34L126.34 215.44Z" fill="none" stroke="#ff00ff" stroke-width="1.7" stroke-linejoin="round"/>
<path d="M137.58 216.92L143.78 216.92L140.68 211.02Z" fill="none" stroke="#ff00ff" stroke-width="1.7" stroke-linejoin="round"/>
<path d="M151.92 209.8L158.12 209.8L155.02 203.9Z" fill="none" stroke="#ff00ff" stroke-width="1.7" stroke-linejoin="round"/>
<path d="M166.26 207.09L172.46 207.09L169.36 201.19Z" fill="none" stroke="#ff00ff" stroke-width="1.7" stroke-linejoin="round"/>
<path d="M180.6 204.38L186.8 204.38L183.7 198.48Z" fill="none" stroke="#ff00ff" stroke-width="1.7" stroke-linejoin="round"/>
<path d="M194.94 201.81L201.14 201.81L198.04 195.92Z" fill="none" stroke="#ff00ff" stroke-width="1.7" stroke-linejoin="round"/>
<path d="M209.28 201.39L215.48 201.39L212.38 195.49Z" fill="none" stroke="#ff00ff" stroke-width="1.7" stroke-linejoin="round"/>
<path d="M223.62 200.25L229.82 200.25L226.72 194.35Z" fill="none" stroke="#ff00ff" stroke-width="1.7" stroke-linejoin="round"/>
<path d="M237.96 198.54L244.16 198.54L241.06 192.64Z" fill="none" stroke="#ff00ff" stroke-width="1.7" stroke-linejoin="round"/>
<path d="M252.3 198.54L258.5 198.54L255.4 192.64Z" fill="none" stroke="#ff00ff" stroke-width="1.7" stroke-linejoin="round"/>
<polyline points="40.3,266.52 54.64,259.96 68.98,252.27 83.32,233.88 97.66,215.5 112,202.96 126.34,196.41 140.68,191.56 155.02,189.14 169.36,183.73 183.7,185.01 198.04,182.59 212.38,183.44 226.72,183.44 241.06,182.59 255.4,183.44" fill="none" stroke="#0000ff" stroke-width="1.8" stroke-linejoin="round" stroke-dasharray="1.6 2.4"/>
<rect x="38.1" y="264.32" width="4.4" height="4.4" fill="none" stroke="#0000ff" stroke-width="1.6"/>
<rect x="52.44" y="257.76" width="4.4" height="4.4" fill="none" stroke="#0000ff" stroke-width="1.6"/>
<rect x="66.78" y="250.07" width="4.4" height="4.4" fill="none" stroke="#0000ff" stroke-width="1.6"/>
<rect x="81.12" y="231.69" width="4.4" height="4.4" fill="none" stroke="#0000ff" stroke-width="1.6"/>
<rect x="95.46" y="213.3" width="4.4" height="4.4" fill="none" stroke="#0000ff" stroke-width="1.6"/>
<rect x="109.8" y="200.76" width="4.4" height="4.4" fill="none" stroke="#0000ff" stroke-width="1.6"/>
<rect x="124.14" y="194.21" width="4.4" height="4.4" fill="none" stroke="#0000ff" stroke-width="1.6"/>
<rect x="138.48" y="189.36" width="4.4" height="4.4" fill="none" stroke="#0000ff" stroke-width="1.6"/>
<rect x="152.82" y="186.94" width="4.4" height="4.4" fill="none" stroke="#0000ff" stroke-width="1.6"/>
<rect x="167.16" y="181.53" width="4.4" height="4.4" fill="none" stroke="#0000ff" stroke-width="1.6"/>
<rect x="181.5" y="182.81" width="4.4" height="4.4" fill="none" stroke="#0000ff" stroke-width="1.6"/>
<rect x="195.84" y="180.39" width="4.4" height="4.4" fill="none" stroke="#0000ff" stroke-width="1.6"/>
<rect x="210.18" y="181.24" width="4.4" height="4.4" fill="none" stroke="#0000ff" stroke-width="1.6"/>
<rect x="224.52" y="181.24" width="4.4" height="4.4" fill="none" stroke="#0000ff" stroke-width="1.6"/>
<rect x="238.86" y="180.39" width="4.4" height="4.4" fill="none" stroke="#0000ff" stroke-width="1.6"/>
<rect x="253.2" y="181.24" width="4.4" height="4.4" fill="none" stroke="#0000ff" stroke-width="1.6"/>
<polyline points="40.3,242.01 54.64,228.61 68.98,216.07 83.32,202.68 97.66,197.26 112,193.27 126.34,188.71 140.68,184.72 155.02,181.16 169.36,175.75 183.7,172.18 198.04,171.47 212.38,171.47 226.72,171.47 241.06,171.47 255.4,171.47" fill="none" stroke="#bfbf00" stroke-width="1.4" stroke-linejoin="round"/>
<circle cx="40.3" cy="242.01" r="2.08" fill="none" stroke="#bfbf00" stroke-width="1.6"/>
<circle cx="54.64" cy="228.61" r="2.08" fill="none" stroke="#bfbf00" stroke-width="1.6"/>
<circle cx="68.98" cy="216.07" r="2.08" fill="none" stroke="#bfbf00" stroke-width="1.6"/>
<circle cx="83.32" cy="202.68" r="2.08" fill="none" stroke="#bfbf00" stroke-width="1.6"/>
<circle cx="97.66" cy="197.26" r="2.08" fill="none" stroke="#bfbf00" stroke-width="1.6"/>
<circle cx="112" cy="193.27" r="2.08" fill="none" stroke="#bfbf00" stroke-width="1.6"/>
<circle cx="126.34" cy="188.71" r="2.08" fill="none" stroke="#bfbf00" stroke-width="1.6"/>
<circle cx="140.68" cy="184.72" r="2.08" fill="none" stroke="#bfbf00" stroke-width="1.6"/>
<circle cx="155.02" cy="181.16" r="2.08" fill="none" stroke="#bfbf00" stroke-width="1.6"/>
<circle cx="169.36" cy="175.75" r="2.08" fill="none" stroke="#bfbf00" stroke-width="1.6"/>
<circle cx="183.7" cy="172.18" r="2.08" fill="none" stroke="#bfbf00" stroke-width="1.6"/>
<circle cx="198.04" cy="171.47" r="2.08" fill="none" stroke="#bfbf00" stroke-width="1.6"/>
<circle cx="212.38" cy="171.47" r="2.08" fill="none" stroke="#bfbf00" stroke-width="1.6"/>
<circle cx="226.72" cy="171.47" r="2.08" fill="none" stroke="#bfbf00" stroke-width="1.6"/>
<circle cx="241.06" cy="171.47" r="2.08" fill="none" stroke="#bfbf00" stroke-width="1.6"/>
<circle cx="255.4" cy="171.47" r="2.08" fill="none" stroke="#bfbf00" stroke-width="1.6"/>
<polyline points="40.3,233.88 54.64,224.34 68.98,211.94 83.32,200.54 97.66,196.41 112,191.85 126.34,188.29 140.68,182.87 155.02,177.17 169.36,174.89 183.7,171.61 198.04,171.61 212.38,171.61 226.72,171.61 241.06,171.61 255.4,171.61" fill="none" stroke="#ff0000" stroke-width="1.8" stroke-linejoin="round" stroke-dasharray="1.6 2.4"/>
<path d="M36.85 233.88L43.75 233.88M40.3 230.44L40.3 237.33" stroke="#ff0000" stroke-width="1.95"/>
<path d="M51.19 224.34L58.09 224.34M54.64 220.89L54.64 227.79" stroke="#ff0000" stroke-width="1.95"/>
<path d="M65.53 211.94L72.43 211.94M68.98 208.49L68.98 215.39" stroke="#ff0000" stroke-width="1.95"/>
<path d="M79.87 200.54L86.77 200.54M83.32 197.09L83.32 203.99" stroke="#ff0000" stroke-width="1.95"/>
<path d="M94.21 196.41L101.11 196.41M97.66 192.96L97.66 199.86" stroke="#ff0000" stroke-width="1.95"/>
<path d="M108.55 191.85L115.45 191.85M112 188.4L112 195.3" stroke="#ff0000" stroke-width="1.95"/>
<path d="M122.89 188.29L129.79 188.29M126.34 184.84L126.34 191.74" stroke="#ff0000" stroke-width="1.95"/>
<path d="M137.23 182.87L144.13 182.87M140.68 179.42L140.68 186.32" stroke="#ff0000" stroke-width="1.95"/>
<path d="M151.57 177.17L158.47 177.17M155.02 173.72L155.02 180.62" stroke="#ff0000" stroke-width="1.95"/>
<path d="M165.91 174.89L172.81 174.89M169.36 171.44L169.36 178.34" stroke="#ff0000" stroke-width="1.95"/>
<path d="M180.25 171.61L187.15 171.61M183.7 168.16L183.7 175.06" stroke="#ff0000" stroke-width="1.95"/>
<path d="M194.59 171.61L201.49 171.61M198.04 168.16L198.04 175.06" stroke="#ff0000" stroke-width="1.95"/>
<path d="M208.93 171.61L215.83 171.61M212.38 168.16L212.38 175.06" stroke="#ff0000" stroke-width="1.95"/>
<path d="M223.27 171.61L230.17 171.61M226.72 168.16L226.72 175.06" stroke="#ff0000" stroke-width="1.95"/>
<path d="M237.61 171.61L244.51 171.61M241.06 168.16L241.06 175.06" stroke="#ff0000" stroke-width="1.95"/>
<path d="M251.95 171.61L258.85 171.61M255.4 168.16L255.4 175.06" stroke="#ff0000" stroke-width="1.95"/>
<polyline points="40.3,217.5 54.64,204.1 68.98,198.69 83.32,191.56 97.66,191.85 112,186.15 126.34,182.59 140.68,176.17 155.02,172.18 169.36,171.33 183.7,171.04 198.04,171.04 212.38,171.04 226.72,171.04 241.06,171.04 255.4,171.04" fill="none" stroke="#ff0000" stroke-width="1.8" stroke-linejoin="round"/>
<path d="M40.3 214.2L43 217.5L40.3 220.8L37.6 217.5Z" fill="#ff0000" stroke="#ff0000" stroke-width="1"/>
<path d="M54.64 200.8L57.34 204.1L54.64 207.4L51.94 204.1Z" fill="#ff0000" stroke="#ff0000" stroke-width="1"/>
<path d="M68.98 195.39L71.68 198.69L68.98 201.99L66.28 198.69Z" fill="#ff0000" stroke="#ff0000" stroke-width="1"/>
<path d="M83.32 188.26L86.02 191.56L83.32 194.86L80.62 191.56Z" fill="#ff0000" stroke="#ff0000" stroke-width="1"/>
<path d="M97.66 188.55L100.36 191.85L97.66 195.15L94.96 191.85Z" fill="#ff0000" stroke="#ff0000" stroke-width="1"/>
<path d="M112 182.85L114.7 186.15L112 189.45L109.3 186.15Z" fill="#ff0000" stroke="#ff0000" stroke-width="1"/>
<path d="M126.34 179.28L129.04 182.59L126.34 185.89L123.64 182.59Z" fill="#ff0000" stroke="#ff0000" stroke-width="1"/>
<path d="M140.68 172.87L143.38 176.17L140.68 179.47L137.98 176.17Z" fill="#ff0000" stroke="#ff0000" stroke-width="1"/>
<path d="M155.02 168.88L157.72 172.18L155.02 175.48L152.32 172.18Z" fill="#ff0000" stroke="#ff0000" stroke-width="1"/>
<path d="M169.36 168.03L172.06 171.33L169.36 174.63L166.66 171.33Z" fill="#ff0000" stroke="#ff0000" stroke-width="1"/>
<path d="M183.7 167.74L186.4 171.04L183.7 174.34L181 171.04Z" fill="#ff0000" stroke="#ff0000" stroke-width="1"/>
<path d="M198.04 167.74L200.74 171.04L198.04 174.34L195.34 171.04Z" fill="#ff0000" stroke="#ff0000" stroke-width="1"/>
<path d="M212.38 167.74L215.08 171.04L212.38 174.34L209.68 171.04Z" fill="#ff0000" stroke="#ff0000" stroke-width="1"/>
<path d="M226.72 167.74L229.42 171.04L226.72 174.34L224.02 171.04Z" fill="#ff0000" stroke="#ff0000" stroke-width="1"/>
<path d="M241.06 167.74L243.76 171.04L241.06 174.34L238.36 171.04Z" fill="#ff0000" stroke="#ff0000" stroke-width="1"/>
<path d="M255.4 167.74L258.1 171.04L255.4 174.34L252.7 171.04Z" fill="#ff0000" stroke="#ff0000" stroke-width="1"/>
</g>
<rect x="40.3" y="170.9" width="215.1" height="114" fill="none" stroke="#777" stroke-width="1.5"/>
<path d="M40.3 284.9V282.6M40.3 170.9V173.2" stroke="#555" stroke-width="0.9"/>
<text x="38.4" y="294.4" font-family="Liberation Serif" font-weight="bold" font-size="8.3" text-anchor="middle">−10</text>
<path d="M76.15 284.9V282.6M76.15 170.9V173.2" stroke="#555" stroke-width="0.9"/>
<text x="74.25" y="294.4" font-family="Liberation Serif" font-weight="bold" font-size="8.3" text-anchor="middle">−5</text>
<path d="M112 284.9V282.6M112 170.9V173.2" stroke="#555" stroke-width="0.9"/>
<text x="112" y="294.4" font-family="Liberation Serif" font-weight="bold" font-size="8.3" text-anchor="middle">0</text>
<path d="M147.85 284.9V282.6M147.85 170.9V173.2" stroke="#555" stroke-width="0.9"/>
<text x="147.85" y="294.4" font-family="Liberation Serif" font-weight="bold" font-size="8.3" text-anchor="middle">5</text>
<path d="M183.7 284.9V282.6M183.7 170.9V173.2" stroke="#555" stroke-width="0.9"/>
<text x="183.7" y="294.4" font-family="Liberation Serif" font-weight="bold" font-size="8.3" text-anchor="middle">10</text>
<path d="M219.55 284.9V282.6M219.55 170.9V173.2" stroke="#555" stroke-width="0.9"/>
<text x="219.55" y="294.4" font-family="Liberation Serif" font-weight="bold" font-size="8.3" text-anchor="middle">15</text>
<path d="M255.4 284.9V282.6M255.4 170.9V173.2" stroke="#555" stroke-width="0.9"/>
<text x="255.4" y="294.4" font-family="Liberation Serif" font-weight="bold" font-size="8.3" text-anchor="middle">20</text>
<path d="M40.3 284.9H42.6M255.4 284.9H253.1" stroke="#555" stroke-width="0.9"/>
<text x="39.2" y="288.2" font-family="Liberation Serif" font-weight="bold" font-size="8.3" text-anchor="end">20</text>
<path d="M40.3 256.4H42.6M255.4 256.4H253.1" stroke="#555" stroke-width="0.9"/>
<text x="39.2" y="259.7" font-family="Liberation Serif" font-weight="bold" font-size="8.3" text-anchor="end">40</text>
<path d="M40.3 227.9H42.6M255.4 227.9H253.1" stroke="#555" stroke-width="0.9"/>
<text x="39.2" y="231.2" font-family="Liberation Serif" font-weight="bold" font-size="8.3" text-anchor="end">60</text>
<path d="M40.3 199.4H42.6M255.4 199.4H253.1" stroke="#555" stroke-width="0.9"/>
<text x="39.2" y="202.7" font-family="Liberation Serif" font-weight="bold" font-size="8.3" text-anchor="end">80</text>
<path d="M40.3 170.9H42.6M255.4 170.9H253.1" stroke="#555" stroke-width="0.9"/>
<text x="39.2" y="174.2" font-family="Liberation Serif" font-weight="bold" font-size="8.3" text-anchor="end">100</text>
<text transform="translate(21.8 228.4) rotate(-90) scale(0.97 1)" font-family="Liberation Serif" font-weight="bold" font-size="10.3" text-anchor="middle" stroke="#000" stroke-width="0.2">Classification Accuracy</text>
<text x="147.9" y="303.5" font-family="Liberation Serif" font-weight="bold" font-size="10.2" text-anchor="middle">SNR (in dB)</text>
<text x="168" y="318.1" font-family="Liberation Serif" font-size="10" text-anchor="middle">(c)</text>
<rect x="259.4" y="169.9" width="59.9" height="70.5" fill="#fff" stroke="#777" stroke-width="1.4"/>
<path d="M262.6 177.5H276.9" stroke="#ff0000" stroke-width="1.6"/>
<path d="M269.8 174.37L272.36 177.5L269.8 180.63L267.23 177.5Z" fill="#ff0000" stroke="#ff0000" stroke-width="0.95"/>
<text x="279" y="180.4" font-family="Liberation Serif" font-weight="bold" font-size="8.4">LSTM<tspan font-size="5.8" dy="3.2">NS</tspan></text>
<path d="M262.6 191H276.9" stroke="#bfbf00" stroke-width="1.6"/>
<circle cx="269.8" cy="191" r="2.47" fill="none" stroke="#bfbf00" stroke-width="1.9"/>
<text x="279" y="193.9" font-family="Liberation Serif" font-weight="bold" font-size="8.4">LSTM<tspan font-size="5.8" dy="3.2">OMP</tspan></text>
<path d="M262.6 203.5H276.9" stroke="#ff0000" stroke-width="1.6" stroke-dasharray="1.6 2.4"/>
<path d="M266.95 203.5L272.65 203.5M269.8 200.65L269.8 206.35" stroke="#ff0000" stroke-width="1.61"/>
<text x="279" y="206.4" font-family="Liberation Serif" font-weight="bold" font-size="8.4">P−LSTM</text>
<path d="M262.6 214.5H276.9" stroke="#00ff00" stroke-width="1.6" stroke-dasharray="1.6 2.4"/>
<path d="M266.85 211.94L272.74 211.94L269.8 217.54Z" fill="none" stroke="#00ff00" stroke-width="1.61" stroke-linejoin="round"/>
<text x="279" y="217.4" font-family="Liberation Serif" font-weight="bold" font-size="8.4">P−SVM</text>
<path d="M262.6 225H276.9" stroke="#ff00ff" stroke-width="1.6" stroke-dasharray="1.6 2.4"/>
<path d="M266.85 227.56L272.74 227.56L269.8 221.96Z" fill="none" stroke="#ff00ff" stroke-width="1.61" stroke-linejoin="round"/>
<text x="279" y="227.9" font-family="Liberation Serif" font-weight="bold" font-size="8.4">P−RF10</text>
<path d="M262.6 235H276.9" stroke="#0000ff" stroke-width="1.6" stroke-dasharray="1.6 2.4"/>
<rect x="267.71" y="232.91" width="4.18" height="4.18" fill="none" stroke="#0000ff" stroke-width="1.52"/>
<text x="279" y="237.9" font-family="Liberation Serif" font-weight="bold" font-size="8.4">P−RF150</text>
<g clip-path="none">
<polyline points="349.8,272.45 364.14,261.87 378.48,253.08 392.82,244.78 407.16,236.97 421.5,232.74 435.84,224.28 450.18,216.96 464.52,210.61 478.86,204.76 493.2,197.11 507.54,195.97 521.88,191.74 536.22,189.3 550.56,186.37 564.9,186.04" fill="none" stroke="#ff0000" stroke-width="1.8" stroke-linejoin="round" stroke-dasharray="1.6 2.4"/>
<path d="M346.5 272.45L353.1 272.45M349.8 269.15L349.8 275.75" stroke="#ff0000" stroke-width="1.3"/>
<path d="M360.84 261.87L367.44 261.87M364.14 258.57L364.14 265.17" stroke="#ff0000" stroke-width="1.3"/>
<path d="M375.18 253.08L381.78 253.08M378.48 249.78L378.48 256.38" stroke="#ff0000" stroke-width="1.3"/>
<path d="M389.52 244.78L396.12 244.78M392.82 241.48L392.82 248.08" stroke="#ff0000" stroke-width="1.3"/>
<path d="M403.86 236.97L410.46 236.97M407.16 233.67L407.16 240.27" stroke="#ff0000" stroke-width="1.3"/>
<path d="M418.2 232.74L424.8 232.74M421.5 229.44L421.5 236.04" stroke="#ff0000" stroke-width="1.3"/>
<path d="M432.54 224.28L439.14 224.28M435.84 220.98L435.84 227.58" stroke="#ff0000" stroke-width="1.3"/>
<path d="M446.88 216.96L453.48 216.96M450.18 213.66L450.18 220.26" stroke="#ff0000" stroke-width="1.3"/>
<path d="M461.22 210.61L467.82 210.61M464.52 207.31L464.52 213.91" stroke="#ff0000" stroke-width="1.3"/>
<path d="M475.56 204.76L482.16 204.76M478.86 201.46L478.86 208.06" stroke="#ff0000" stroke-width="1.3"/>
<path d="M489.9 197.11L496.5 197.11M493.2 193.81L493.2 200.41" stroke="#ff0000" stroke-width="1.3"/>
<path d="M504.24 195.97L510.84 195.97M507.54 192.67L507.54 199.27" stroke="#ff0000" stroke-width="1.3"/>
<path d="M518.58 191.74L525.18 191.74M521.88 188.44L521.88 195.04" stroke="#ff0000" stroke-width="1.3"/>
<path d="M532.92 189.3L539.52 189.3M536.22 186L536.22 192.6" stroke="#ff0000" stroke-width="1.3"/>
<path d="M547.26 186.37L553.86 186.37M550.56 183.07L550.56 189.67" stroke="#ff0000" stroke-width="1.3"/>
<path d="M561.6 186.04L568.2 186.04M564.9 182.74L564.9 189.34" stroke="#ff0000" stroke-width="1.3"/>
<polyline points="349.8,246.74 364.14,231.77 378.48,225.91 392.82,218.75 407.16,215.98 421.5,211.26 435.84,205.9 450.18,201.34 464.52,196.13 478.86,194.51 493.2,195.16 507.54,191.25 521.88,191.74 536.22,190.76 550.56,190.27 564.9,189.3" fill="none" stroke="#0000ff" stroke-width="1.8" stroke-linejoin="round" stroke-dasharray="1.6 2.4"/>
<path d="M349.8 243.34L352.5 246.74L349.8 250.14L347.1 246.74Z" fill="none" stroke="#0000ff" stroke-width="1.7"/>
<path d="M364.14 228.37L366.84 231.77L364.14 235.17L361.44 231.77Z" fill="none" stroke="#0000ff" stroke-width="1.7"/>
<path d="M378.48 222.51L381.18 225.91L378.48 229.31L375.78 225.91Z" fill="none" stroke="#0000ff" stroke-width="1.7"/>
<path d="M392.82 215.35L395.52 218.75L392.82 222.15L390.12 218.75Z" fill="none" stroke="#0000ff" stroke-width="1.7"/>
<path d="M407.16 212.58L409.86 215.98L407.16 219.38L404.46 215.98Z" fill="none" stroke="#0000ff" stroke-width="1.7"/>
<path d="M421.5 207.86L424.2 211.26L421.5 214.66L418.8 211.26Z" fill="none" stroke="#0000ff" stroke-width="1.7"/>
<path d="M435.84 202.5L438.54 205.9L435.84 209.3L433.14 205.9Z" fill="none" stroke="#0000ff" stroke-width="1.7"/>
<path d="M450.18 197.94L452.88 201.34L450.18 204.74L447.48 201.34Z" fill="none" stroke="#0000ff" stroke-width="1.7"/>
<path d="M464.52 192.73L467.22 196.13L464.52 199.53L461.82 196.13Z" fill="none" stroke="#0000ff" stroke-width="1.7"/>
<path d="M478.86 191.11L481.56 194.51L478.86 197.91L476.16 194.51Z" fill="none" stroke="#0000ff" stroke-width="1.7"/>
<path d="M493.2 191.76L495.9 195.16L493.2 198.56L490.5 195.16Z" fill="none" stroke="#0000ff" stroke-width="1.7"/>
<path d="M507.54 187.85L510.24 191.25L507.54 194.65L504.84 191.25Z" fill="none" stroke="#0000ff" stroke-width="1.7"/>
<path d="M521.88 188.34L524.58 191.74L521.88 195.14L519.18 191.74Z" fill="none" stroke="#0000ff" stroke-width="1.7"/>
<path d="M536.22 187.36L538.92 190.76L536.22 194.16L533.52 190.76Z" fill="none" stroke="#0000ff" stroke-width="1.7"/>
<path d="M550.56 186.87L553.26 190.27L550.56 193.67L547.86 190.27Z" fill="none" stroke="#0000ff" stroke-width="1.7"/>
<path d="M564.9 185.9L567.6 189.3L564.9 192.7L562.2 189.3Z" fill="none" stroke="#0000ff" stroke-width="1.7"/>
<polyline points="349.8,258.94 364.14,248.2 378.48,239.58 392.82,231.77 407.16,225.91 421.5,222.33 435.84,211.26 450.18,202.8 464.52,194.18 478.86,188.32 493.2,185.39 507.54,182.46 521.88,182.46 536.22,178.56 550.56,178.56 564.9,178.56" fill="none" stroke="#ff0000" stroke-width="1.8" stroke-linejoin="round"/>
<path d="M347.2 256.34L352.4 261.54M347.2 261.54L352.4 256.34" stroke="#ff0000" stroke-width="1.3"/>
<path d="M361.54 245.6L366.74 250.8M361.54 250.8L366.74 245.6" stroke="#ff0000" stroke-width="1.3"/>
<path d="M375.88 236.98L381.08 242.18M375.88 242.18L381.08 236.98" stroke="#ff0000" stroke-width="1.3"/>
<path d="M390.22 229.17L395.42 234.37M390.22 234.37L395.42 229.17" stroke="#ff0000" stroke-width="1.3"/>
<path d="M404.56 223.31L409.76 228.51M404.56 228.51L409.76 223.31" stroke="#ff0000" stroke-width="1.3"/>
<path d="M418.9 219.73L424.1 224.93M418.9 224.93L424.1 219.73" stroke="#ff0000" stroke-width="1.3"/>
<path d="M433.24 208.66L438.44 213.86M433.24 213.86L438.44 208.66" stroke="#ff0000" stroke-width="1.3"/>
<path d="M447.58 200.2L452.78 205.4M447.58 205.4L452.78 200.2" stroke="#ff0000" stroke-width="1.3"/>
<path d="M461.92 191.58L467.12 196.78M461.92 196.78L467.12 191.58" stroke="#ff0000" stroke-width="1.3"/>
<path d="M476.26 185.72L481.46 190.92M476.26 190.92L481.46 185.72" stroke="#ff0000" stroke-width="1.3"/>
<path d="M490.6 182.79L495.8 187.99M490.6 187.99L495.8 182.79" stroke="#ff0000" stroke-width="1.3"/>
<path d="M504.94 179.86L510.14 185.06M504.94 185.06L510.14 179.86" stroke="#ff0000" stroke-width="1.3"/>
<path d="M519.28 179.86L524.48 185.06M519.28 185.06L524.48 179.86" stroke="#ff0000" stroke-width="1.3"/>
<path d="M533.62 175.96L538.82 181.16M533.62 181.16L538.82 175.96" stroke="#ff0000" stroke-width="1.3"/>
<path d="M547.96 175.96L553.16 181.16M547.96 181.16L553.16 175.96" stroke="#ff0000" stroke-width="1.3"/>
<path d="M562.3 175.96L567.5 181.16M562.3 181.16L567.5 175.96" stroke="#ff0000" stroke-width="1.3"/>
<polyline points="349.8,238.19 364.14,227.37 378.48,218.75 392.82,211.92 407.16,211.92 421.5,202.97 435.84,199.06 450.18,193.85 464.52,188.32 478.86,185.07 493.2,183.44 507.54,181.49 521.88,182.79 536.22,182.46 550.56,181.49 564.9,182.46" fill="none" stroke="#0000ff" stroke-width="1.8" stroke-linejoin="round"/>
<circle cx="349.8" cy="238.19" r="2.9" fill="none" stroke="#0000ff" stroke-width="1.5"/>
<circle cx="364.14" cy="227.37" r="2.9" fill="none" stroke="#0000ff" stroke-width="1.5"/>
<circle cx="378.48" cy="218.75" r="2.9" fill="none" stroke="#0000ff" stroke-width="1.5"/>
<circle cx="392.82" cy="211.92" r="2.9" fill="none" stroke="#0000ff" stroke-width="1.5"/>
<circle cx="407.16" cy="211.92" r="2.9" fill="none" stroke="#0000ff" stroke-width="1.5"/>
<circle cx="421.5" cy="202.97" r="2.9" fill="none" stroke="#0000ff" stroke-width="1.5"/>
<circle cx="435.84" cy="199.06" r="2.9" fill="none" stroke="#0000ff" stroke-width="1.5"/>
<circle cx="450.18" cy="193.85" r="2.9" fill="none" stroke="#0000ff" stroke-width="1.5"/>
<circle cx="464.52" cy="188.32" r="2.9" fill="none" stroke="#0000ff" stroke-width="1.5"/>
<circle cx="478.86" cy="185.07" r="2.9" fill="none" stroke="#0000ff" stroke-width="1.5"/>
<circle cx="493.2" cy="183.44" r="2.9" fill="none" stroke="#0000ff" stroke-width="1.5"/>
<circle cx="507.54" cy="181.49" r="2.9" fill="none" stroke="#0000ff" stroke-width="1.5"/>
<circle cx="521.88" cy="182.79" r="2.9" fill="none" stroke="#0000ff" stroke-width="1.5"/>
<circle cx="536.22" cy="182.46" r="2.9" fill="none" stroke="#0000ff" stroke-width="1.5"/>
<circle cx="550.56" cy="181.49" r="2.9" fill="none" stroke="#0000ff" stroke-width="1.5"/>
<circle cx="564.9" cy="182.46" r="2.9" fill="none" stroke="#0000ff" stroke-width="1.5"/>
</g>
<rect x="349.8" y="171.4" width="215.1" height="113.9" fill="none" stroke="#777" stroke-width="1.5"/>
<path d="M349.8 285.3V283M349.8 171.4V173.7" stroke="#555" stroke-width="0.9"/>
<text x="347.9" y="294.8" font-family="Liberation Serif" font-weight="bold" font-size="8.3" text-anchor="middle">−10</text>
<path d="M385.65 285.3V283M385.65 171.4V173.7" stroke="#555" stroke-width="0.9"/>
<text x="383.75" y="294.8" font-family="Liberation Serif" font-weight="bold" font-size="8.3" text-anchor="middle">−5</text>
<path d="M421.5 285.3V283M421.5 171.4V173.7" stroke="#555" stroke-width="0.9"/>
<text x="421.5" y="294.8" font-family="Liberation Serif" font-weight="bold" font-size="8.3" text-anchor="middle">0</text>
<path d="M457.35 285.3V283M457.35 171.4V173.7" stroke="#555" stroke-width="0.9"/>
<text x="457.35" y="294.8" font-family="Liberation Serif" font-weight="bold" font-size="8.3" text-anchor="middle">5</text>
<path d="M493.2 285.3V283M493.2 171.4V173.7" stroke="#555" stroke-width="0.9"/>
<text x="493.2" y="294.8" font-family="Liberation Serif" font-weight="bold" font-size="8.3" text-anchor="middle">10</text>
<path d="M529.05 285.3V283M529.05 171.4V173.7" stroke="#555" stroke-width="0.9"/>
<text x="529.05" y="294.8" font-family="Liberation Serif" font-weight="bold" font-size="8.3" text-anchor="middle">15</text>
<path d="M564.9 285.3V283M564.9 171.4V173.7" stroke="#555" stroke-width="0.9"/>
<text x="564.9" y="294.8" font-family="Liberation Serif" font-weight="bold" font-size="8.3" text-anchor="middle">20</text>
<path d="M349.8 285.3H352.1M564.9 285.3H562.6" stroke="#555" stroke-width="0.9"/>
<text x="348.7" y="288.6" font-family="Liberation Serif" font-weight="bold" font-size="8.3" text-anchor="end">30</text>
<path d="M349.8 269.03H352.1M564.9 269.03H562.6" stroke="#555" stroke-width="0.9"/>
<text x="348.7" y="272.33" font-family="Liberation Serif" font-weight="bold" font-size="8.3" text-anchor="end">40</text>
<path d="M349.8 252.76H352.1M564.9 252.76H562.6" stroke="#555" stroke-width="0.9"/>
<text x="348.7" y="256.06" font-family="Liberation Serif" font-weight="bold" font-size="8.3" text-anchor="end">50</text>
<path d="M349.8 236.49H352.1M564.9 236.49H562.6" stroke="#555" stroke-width="0.9"/>
<text x="348.7" y="239.79" font-family="Liberation Serif" font-weight="bold" font-size="8.3" text-anchor="end">60</text>
<path d="M349.8 220.21H352.1M564.9 220.21H562.6" stroke="#555" stroke-width="0.9"/>
<text x="348.7" y="223.51" font-family="Liberation Serif" font-weight="bold" font-size="8.3" text-anchor="end">70</text>
<path d="M349.8 203.94H352.1M564.9 203.94H562.6" stroke="#555" stroke-width="0.9"/>
<text x="348.7" y="207.24" font-family="Liberation Serif" font-weight="bold" font-size="8.3" text-anchor="end">80</text>
<path d="M349.8 187.67H352.1M564.9 187.67H562.6" stroke="#555" stroke-width="0.9"/>
<text x="348.7" y="190.97" font-family="Liberation Serif" font-weight="bold" font-size="8.3" text-anchor="end">90</text>
<path d="M349.8 171.4H352.1M564.9 171.4H562.6" stroke="#555" stroke-width="0.9"/>
<text x="348.7" y="174.7" font-family="Liberation Serif" font-weight="bold" font-size="8.3" text-anchor="end">100</text>
<text transform="translate(331.6 228) rotate(-90) scale(0.97 1)" font-family="Liberation Serif" font-weight="bold" font-size="10.3" text-anchor="middle" stroke="#000" stroke-width="0.2">Classification Accuracy</text>
<text x="457.3" y="303.7" font-family="Liberation Serif" font-weight="bold" font-size="10.2" text-anchor="middle">SNR (in dB)</text>
<text x="474.8" y="318.1" font-family="Liberation Serif" font-size="10" text-anchor="middle">(d)</text>
<rect x="566.4" y="171.2" width="56.4" height="48.8" fill="#fff" stroke="#777" stroke-width="1.4"/>
<path d="M568.7 179.6H585" stroke="#ff0000" stroke-width="1.6"/>
<path d="M574.17 176.87L579.63 182.33M574.17 182.33L579.63 176.87" stroke="#ff0000" stroke-width="1.37"/>
<text x="587.1" y="182.5" font-family="Liberation Serif" font-weight="bold" font-size="8.05">Ray<tspan font-size="6.2" dy="3.6">NS</tspan></text>
<path d="M568.7 193.4H585" stroke="#0000ff" stroke-width="1.6"/>
<circle cx="576.9" cy="193.4" r="3.04" fill="none" stroke="#0000ff" stroke-width="1.58"/>
<text x="587.1" y="196.3" font-family="Liberation Serif" font-weight="bold" font-size="8.05">Ray−10<tspan font-size="6.2" dy="3.6">NS</tspan></text>
<path d="M568.7 205.1H585" stroke="#ff0000" stroke-width="1.6" stroke-dasharray="1.6 2.4"/>
<path d="M573.43 205.1L580.37 205.1M576.9 201.63L576.9 208.56" stroke="#ff0000" stroke-width="1.37"/>
<text x="587.1" y="208" font-family="Liberation Serif" font-weight="bold" font-size="8.05">P−Ray</text>
<path d="M568.7 214.9H585" stroke="#0000ff" stroke-width="1.6" stroke-dasharray="1.6 2.4"/>
<path d="M576.9 211.33L579.74 214.9L576.9 218.47L574.06 214.9Z" fill="none" stroke="#0000ff" stroke-width="1.78"/>
<text x="587.1" y="217.8" font-family="Liberation Serif" font-weight="bold" font-size="8.05">P−Ray−10</text>
<text x="1" y="335.3" font-family="Liberation Serif" font-size="10">Fig. 11.</text>
<text x="40.6" y="335.3" font-family="Liberation Serif" font-size="10">Classification</text>
<text x="98.75" y="335.3" font-family="Liberation Serif" font-size="10">accuracy</text>
<text x="138.5" y="335.3" font-family="Liberation Serif" font-size="10">of</text>
<text x="150.6" y="335.3" font-family="Liberation Serif" font-size="10">the</text>
<text x="167.5" y="335.3" font-family="Liberation Serif" font-size="10">(a)</text>
<text x="182.75" y="335.3" font-family="Liberation Serif" font-size="10">proposed</text>
<text x="223.1" y="335.3" font-family="Liberation Serif" font-size="10">CNN-SS</text>
<text x="263.1" y="335.3" font-family="Liberation Serif" font-size="10">on</text>
<text x="277.5" y="335.3" font-family="Liberation Serif" font-size="9.4" font-weight="bold">Dataset</text><text x="307.6" y="337" font-family="Liberation Serif" font-size="7.9" font-weight="bold">R-MC</text>
<text x="334.4" y="335.3" font-family="Liberation Serif" font-size="10">(b)</text>
<text x="350" y="335.3" font-family="Liberation Serif" font-size="10">proposed</text>
<text x="390.75" y="335.3" font-family="Liberation Serif" font-size="10">CNN-Inception</text>
<text x="456" y="335.3" font-family="Liberation Serif" font-size="10">on</text>
<text x="470" y="335.3" font-family="Liberation Serif" font-size="9.4" font-weight="bold">Dataset</text><text x="500.4" y="337" font-family="Liberation Serif" font-size="7.9" font-weight="bold">R-MC</text><text x="527.5" y="335.3" font-family="Liberation Serif" font-size="9.4" font-weight="bold">1A</text>
<text x="543.75" y="335.3" font-family="Liberation Serif" font-size="10">(c)</text>
<text x="558.75" y="335.3" font-family="Liberation Serif" font-size="10">proposed</text>
<text x="600" y="335.3" font-family="Liberation Serif" font-size="10">LSTM</text>
<text x="628.75" y="335.3" font-family="Liberation Serif" font-size="10">on</text>
</svg>
</body></html>
